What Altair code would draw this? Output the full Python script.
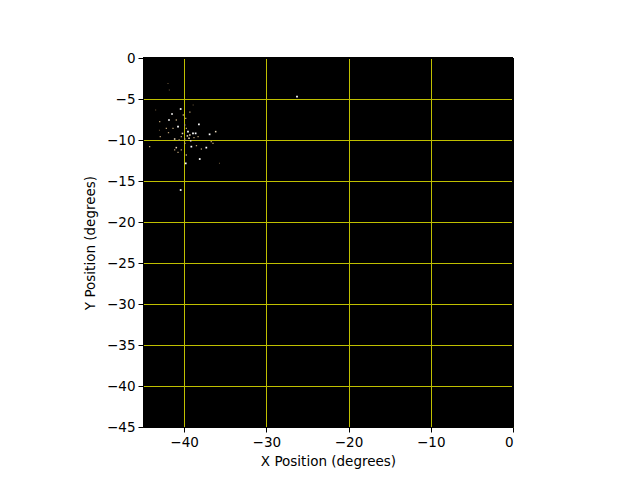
import altair as alt
import pandas as pd

# star positions (degrees) and brightness level (0 faint .. 3 bright)
xs = [-41.96, -41.8, -43.46, -40.42, -38.9, -41.47, -39.3, -40.1, -41.84, -42.97,
      -40.95, -39.8, -40.74, -39.93, -38.2, -42.16, -41.35, -39.73, -39.53, -38.92,
      -38.6, -39.3, -36.9, -36.16, -38.3, -42.9, -40.34, -41.15, -39.93, -44.19,
      -36.49, -39.12, -38.5, -37.3, -37.9, -40.95, -41.15, -40.34, -40.74, -39.73,
      -38.1, -39.8, -35.7, -40.42, -36.7, -26.27, -39.6, -39.2, -40.2, -39.9,
      -39.4, -40.6, -38.8, -41.9, -43.0]
ys = [-3.10, -3.9, -6.34, -6.22, -5.73, -6.83, -6.6, -6.95, -7.56, -7.76,
      -7.56, -7.36, -8.37, -8.17, -8.09, -8.57, -8.57, -8.57, -8.98, -9.19,
      -9.19, -9.39, -9.31, -8.98, -9.6, -9.6, -9.6, -9.88, -9.88, -10.81,
      -10.4, -10.81, -10.69, -10.93, -11.1, -10.93, -11.2, -11.2, -11.5, -11.83,
      -12.32, -12.85, -12.85, -16.1, -10.2, -4.7, -9.5, -10.1, -9.2, -10.4,
      -9.8, -10.0, -9.7, -9.1, -8.8]
levels = [0, 0, 0, 3, 0, 3, 1, 1, 3, 1,
          1, 1, 3, 1, 3, 1, 1, 1, 3, 3,
          3, 2, 3, 2, 1, 1, 1, 2, 1, 1,
          1, 3, 1, 3, 1, 2, 1, 1, 1, 1,
          3, 3, 0, 3, 1, 3, 2, 2, 2, 1,
          2, 1, 1, 1, 0]

df = pd.DataFrame({"x": xs, "y": ys, "level": levels})

points = alt.Chart(df).mark_square(opacity=1, strokeWidth=0).encode(
    x=alt.X("x:Q",
            scale=alt.Scale(domain=[-45, 0], nice=False, zero=False),
            axis=alt.Axis(title="X Position (degrees)",
                          values=[-40, -30, -20, -10, 0])),
    y=alt.Y("y:Q",
            scale=alt.Scale(domain=[-45, 0], nice=False, zero=False),
            axis=alt.Axis(title="Y Position (degrees)",
                          values=[-45, -40, -35, -30, -25, -20, -15, -10, -5, 0])),
    size=alt.Size("level:O", scale=alt.Scale(domain=[0, 1, 2, 3], range=[1, 3, 5, 10]), legend=None),
    color=alt.Color("level:O",
                    scale=alt.Scale(domain=[0, 1, 2, 3],
                                    range=["#6e5a3c", "#b49a70", "#e8d8b8", "#ffffff"]),
                    legend=None),
)

top_border = alt.Chart(df).mark_rule(color="black", strokeWidth=1.2).encode(
    x=alt.value(0), x2=alt.value(370), y=alt.value(0))
right_border = alt.Chart(df).mark_rule(color="black", strokeWidth=1.2).encode(
    x=alt.value(370), y=alt.value(0), y2=alt.value(369))

chart = alt.layer(points, top_border, right_border).properties(
    width=370, height=369,
    autosize=alt.AutoSizeParams(type="none"),
    padding={"left": 135, "top": 50, "right": 110, "bottom": 50},
).configure_view(
    fill="black", stroke="black", strokeWidth=1
).configure_axis(
    grid=True, gridColor="#bfbf00", gridWidth=1, gridOpacity=1,
    domainColor="black", tickColor="black", tickSize=5,
    labelFont="DejaVu Sans", labelFontSize=13.5, labelColor="black", labelPadding=3,
    titleFont="DejaVu Sans", titleFontSize=13.5, titleFontWeight="normal", titleColor="black",
).configure_axisX(titlePadding=6).configure_axisY(titlePadding=9)

chart.save("out.html", embed_options={"renderer": "svg", "actions": False})
